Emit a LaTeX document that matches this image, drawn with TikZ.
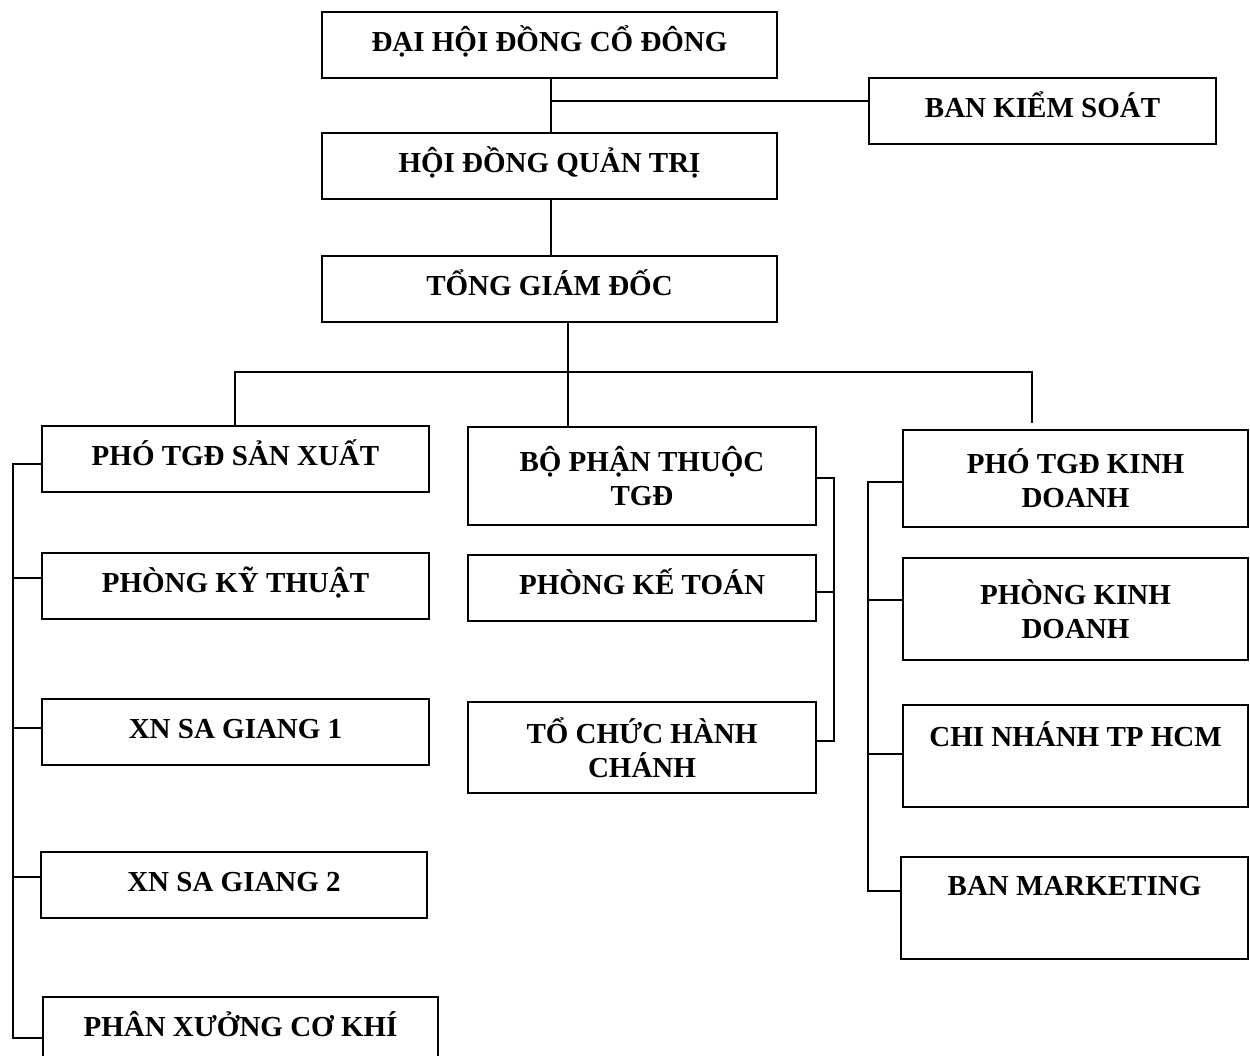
\documentclass[tikz,border=0pt]{standalone}
\usepackage{fontspec}
\setmainfont{Liberation Serif}
\usepackage{tikz}
\tikzset{
  khung/.style = {rectangle, draw=black, line width=1.3pt, inner sep=0pt,
    align=center, font=\fontsize{16.5}{19.5}\selectfont\bfseries},% khung chung
  k_mot/.style 2 args = {khung, minimum width=#1*0.02cm,
    minimum height=#2*0.02cm, text height=11pt, text depth=4pt},% khung mot dong
  k_hai/.style 2 args = {khung, minimum width=#1*0.02cm,
    minimum height=#2*0.02cm},% khung hai dong
  noi/.style = {line width=1.1pt}% duong noi
}

\begin{document}
\begin{tikzpicture}[x=0.02cm, y=-0.02cm]
  \useasboundingbox (0,0) rectangle (1250,1055);
  % cap tren
  \node [k_mot={455}{66}] (dhdcd) at (549.5,45) {ĐẠI HỘI ĐỒNG CỔ ĐÔNG};
  \node [k_mot={347}{66}] (bks) at (1042.5,111) {BAN KIỂM SOÁT};
  \node [k_mot={455}{66}] (hdqt) at (549.5,166) {HỘI ĐỒNG QUẢN TRỊ};
  \node [k_mot={455}{66}] (tgd) at (549.5,289) {TỔNG GIÁM ĐỐC};
  % khoi san xuat
  \node [k_mot={387}{66}] (ptsx) at (235.5,459) {PHÓ TGĐ SẢN XUẤT};
  \node [k_mot={387}{66}] (pkt) at (235.5,586) {PHÒNG KỸ THUẬT};
  \node [k_mot={387}{66}] (xn1) at (235.5,732) {XN SA GIANG 1};
  \node [k_mot={386}{66}] (xn2) at (234,885) {XN SA GIANG 2};
  \node [k_mot={395}{66}] (pxck) at (240.5,1030) {PHÂN XƯỞNG CƠ KHÍ};
  % bo phan thuoc tgd
  \node [k_hai={348}{98}] (bptt) at (642,476) {BỘ PHẬN THUỘC\\TGĐ};
  \node [k_mot={348}{66}] (pkto) at (642,588) {PHÒNG KẾ TOÁN};
  \node [k_hai={348}{91}] (tchc) at (642,747.5) {TỔ CHỨC HÀNH\\CHÁNH};
  % khoi kinh doanh
  \node [k_hai={345}{97}] (ptkd) at (1075.5,478.5) {PHÓ TGĐ KINH\\DOANH};
  \node [k_hai={345}{102}] (pkd) at (1075.5,609) {PHÒNG KINH\\DOANH};
  \node [k_hai={345}{102}] (cn) at (1075.5,756) {CHI NHÁNH TP HCM\\\strut};
  \node [k_hai={347}{102}] (bm) at (1074.5,908) {BAN MARKETING\\\strut};

  % duong noi tren
  \coordinate (k1) at (551,101);
  \draw [noi] (dhdcd.south -| k1) -- (hdqt.north -| k1);
  \draw [noi] (k1) -- (k1 -| bks.west);
  \draw [noi] (hdqt.south -| k1) -- (tgd.north -| k1);
  \coordinate (bar) at (568,372);
  \coordinate (bar_t) at (235,372);
  \coordinate (bar_p) at (1032,372);
  \coordinate (bar_p2) at (1032,423);
  \draw [noi] (tgd.south -| bar) -- (bptt.north -| bar);
  \draw [noi] (ptsx.north -| bar_t) -- (bar_t) -- (bar_p) -- (bar_p2);

  % ngoac trai
  \coordinate (tl1) at (13,464);
  \coordinate (tl2) at (13,1038);
  \draw [noi] (tl1 -| ptsx.west) -- (tl1) -- (tl2) -- (tl2 -| pxck.west);
  \foreach \y/\n in {578/pkt, 728/xn1, 877/xn2}
    \draw [noi] (tl1 |- 0,\y) -- (\n.west |- 0,\y);

  % ngoac giua
  \coordinate (tm1) at (834,478);
  \coordinate (tm2) at (834,741);
  \draw [noi] (tm1 -| bptt.east) -- (tm1) -- (tm2) -- (tm2 -| tchc.east);
  \draw [noi] (tm1 |- 0,592) -- (pkto.east |- 0,592);

  % ngoac phai
  \coordinate (tr1) at (868,482);
  \coordinate (tr2) at (868,891);
  \draw [noi] (tr1 -| ptkd.west) -- (tr1) -- (tr2) -- (tr2 -| bm.west);
  \foreach \y/\n in {600/pkd, 754/cn}
    \draw [noi] (tr1 |- 0,\y) -- (\n.west |- 0,\y);
\end{tikzpicture}
\end{document}
